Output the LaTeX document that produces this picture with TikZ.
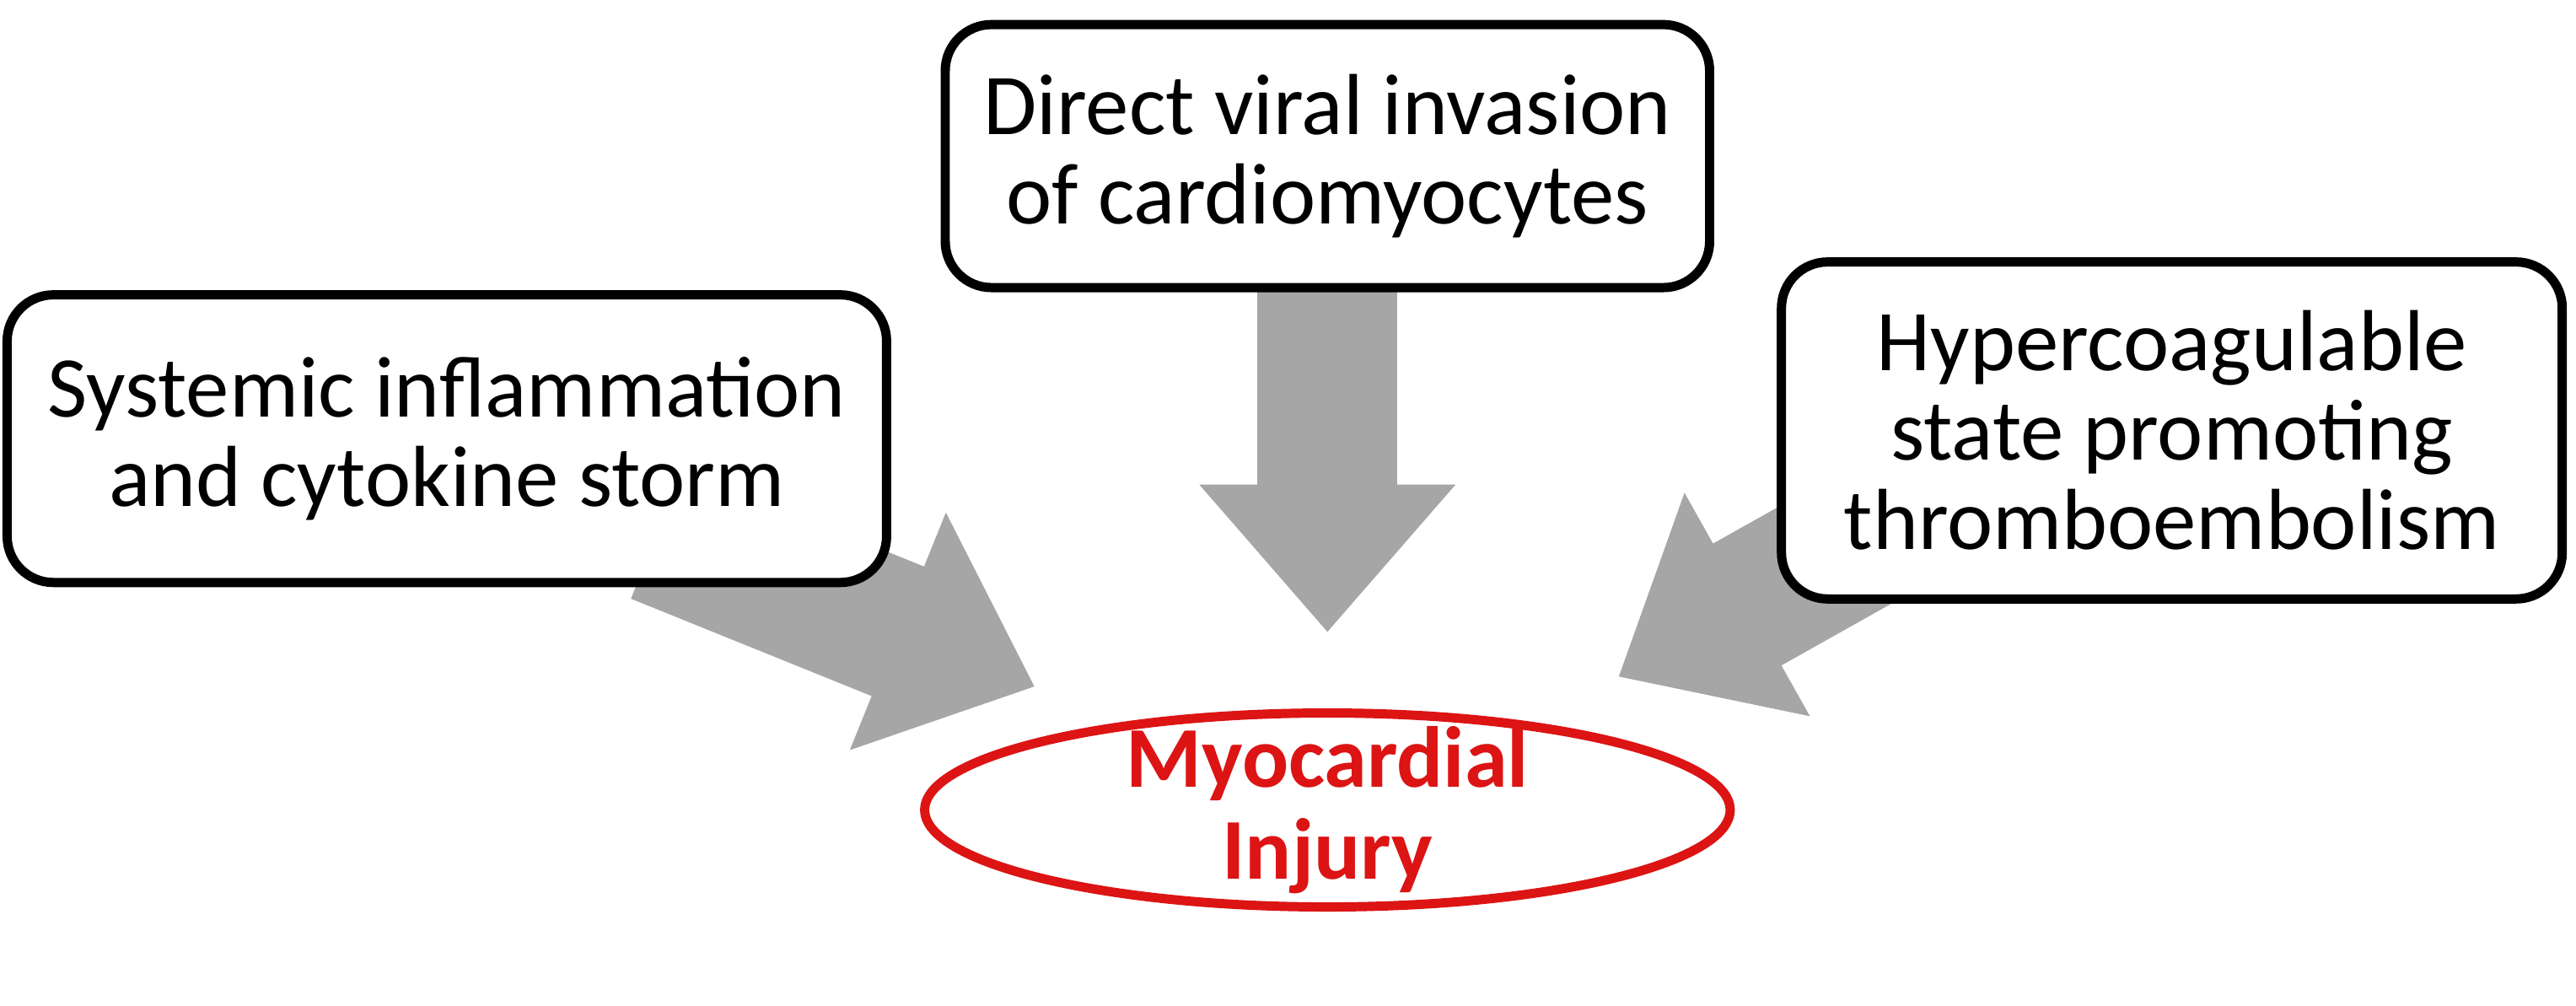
\documentclass[tikz,border=0pt]{standalone}
\usepackage{fontspec}
\setmainfont{Carlito}
\usetikzlibrary{arrows.meta,shapes.geometric}
\definecolor{arrowgray}{RGB}{166,166,166}
\definecolor{injred}{RGB}{220,20,20}
\tikzset{
  cause/.style={draw=black, line width=1.6pt, rounded corners=8pt, fill=white, align=center,
    font=\fontsize{15}{15.5}\selectfont, inner sep=0pt},
  push/.style={arrowgray, line width=0.85cm, -{Triangle[width=1.5cm,length=0.9cm]}}
}
\begin{document}
\begin{tikzpicture}[x=0.01cm, y=-0.01cm]
	\useasboundingbox (0,0) rectangle (1568,612);
	\coordinate (T1) at (630,418);
	\coordinate (T2) at (808,385);
	\coordinate (T3) at (985,412);
	\coordinate (S1) at (400,325);
	\coordinate (S2) at (808,160);
	\coordinate (S3) at (1140,325);
	\draw [push] (S1) -- (T1);
	\draw [push] (S2) -- (T2);
	\draw [push] (S3) -- (T3);
	\node [cause, minimum width=5.35cm, minimum height=1.75cm] at (272,267) (sys) {Systemic inflammation\\and cytokine storm};
	\node [cause, minimum width=4.65cm, minimum height=1.6cm] at (808,95) (vir) {Direct viral invasion\\of cardiomyocytes};
	\node [cause, minimum width=4.75cm, minimum height=2.05cm] at (1322,262) (hyp) {Hypercoagulable\\state promoting\\thromboembolism};
	\node [ellipse, draw=injred, line width=1.6pt, minimum width=4.9cm, minimum height=1.18cm, inner xsep=0pt, inner ysep=-4.5pt,
	       align=center, text=injred, font=\fontsize{15}{16}\selectfont\bfseries] at (808,493) (myo) {Myocardial\\Injury};
\end{tikzpicture}
\end{document}
